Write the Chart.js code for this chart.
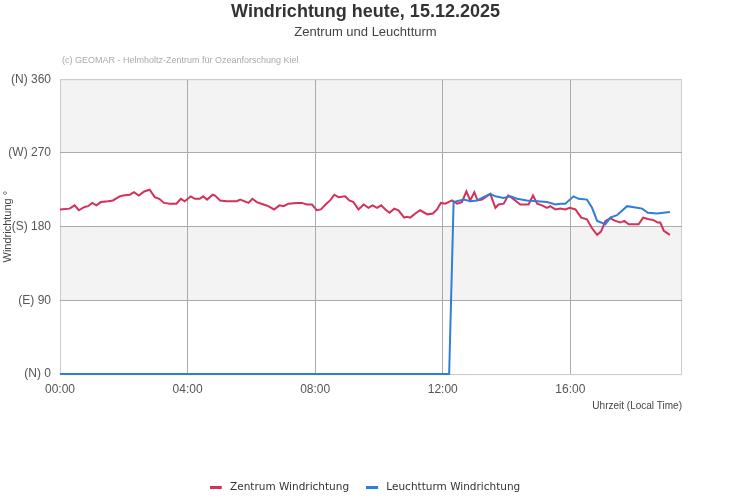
<!DOCTYPE html>
<html>
<head>
<meta charset="utf-8">
<title>Windrichtung heute</title>
<script src="https://cdn.jsdelivr.net/npm/chart.js@4.4.1/dist/chart.umd.min.js"></script>
<style>
  html, body { margin: 0; padding: 0; background: #fff; }
  #wrap { width: 731px; height: 500px; }
</style>
</head>
<body>
<div id="wrap"><canvas id="chart-area" width="731" height="500"></canvas></div>
<script>
// Zentrum: time in decimal hours, direction in degrees
var zentrumHours = [
  0.00, 0.30, 0.46, 0.59, 0.77, 0.88, 1.01, 1.14, 1.28, 1.51, 1.66, 1.87, 1.98, 2.19, 2.32, 2.47,
  2.64, 2.81, 2.97, 3.11, 3.26, 3.44, 3.65, 3.79, 3.91, 4.10, 4.23, 4.38, 4.49, 4.61, 4.79, 4.86,
  5.02, 5.23, 5.54, 5.65, 5.91, 6.03, 6.17, 6.38, 6.53, 6.71, 6.88, 7.01, 7.16, 7.43, 7.58, 7.74,
  7.90, 8.05, 8.18, 8.35, 8.47, 8.60, 8.73, 8.94, 9.07, 9.20, 9.36, 9.52, 9.67, 9.80, 9.94, 10.07,
  10.20, 10.33, 10.48, 10.61, 10.79, 10.88, 10.98, 11.14, 11.29, 11.52, 11.69, 11.82, 11.94, 12.08,
  12.29, 12.45, 12.60, 12.74, 12.86, 12.99, 13.09, 13.23, 13.49, 13.65, 13.75, 13.91, 14.05, 14.17,
  14.43, 14.69, 14.83, 14.96, 15.11, 15.27, 15.37, 15.53, 15.69, 15.84, 15.98, 16.16, 16.34, 16.52,
  16.68, 16.84, 16.96, 17.10, 17.25, 17.41, 17.57, 17.69, 17.83, 18.14, 18.28, 18.46, 18.61, 18.74,
  18.82, 18.93, 19.12
];
var zentrumDeg = [
  201, 202, 206, 200, 204, 205, 209, 206, 210, 211, 212, 217, 218, 219, 222, 218,
  223, 225, 216, 214, 209, 208, 208, 214, 211, 217, 214, 214, 217, 213, 219, 218,
  212, 211, 211, 213, 209, 214, 210, 207, 205, 201, 206, 205, 208, 209, 209, 207,
  207, 200, 201, 208, 212, 219, 216, 217, 212, 210, 201, 207, 203, 206, 203, 206,
  201, 197, 202, 200, 191, 192, 191, 196, 200, 195, 196, 201, 209, 208,
  212, 208, 210, 223, 212, 222, 212, 213, 220, 203, 207, 208, 218, 215,
  207, 207, 218, 208, 206, 203, 205, 201, 202, 201, 203, 201, 191, 189,
  178, 170, 174, 187, 190, 187, 185, 187, 183, 183, 191, 189, 188, 185,
  185, 175, 170
];

// Leuchtturm: no data before noon, logged as 0
var leuchtturmHours = [
  0.00, 12.20, 12.34, 12.66, 12.86, 13.07, 13.28, 13.49, 13.65, 13.91, 14.12, 14.33, 14.64, 14.96,
  15.27, 15.53, 15.69, 15.84, 16.10, 16.26, 16.52, 16.68, 16.84, 17.10, 17.25, 17.46, 17.78, 18.09,
  18.25, 18.43, 18.72, 19.12
];
var leuchtturmDeg = [
  0, 0, 210, 213, 211, 212, 216, 220, 217, 215, 217, 214, 212, 211,
  210, 207, 208, 208, 217, 214, 213, 203, 187, 183, 191, 194, 205, 203,
  202, 197, 196, 198
];

var yTickValues = [0, 90, 180, 270, 360];
var yTickLabels = ['(N) 0', '(E) 90', '(S) 180', '(W) 270', '(N) 360'];
var xTickLabels = ['00:00', '04:00', '08:00', '12:00', '16:00'];

var redColor = '#d3305a';
var blueColor = '#2f7ed8';

function toPoints(xs, ys) {
  return xs.map(function(x, i) { return {x: x, y: ys[i]}; });
}

// legend symbol: short thick line, a bit of room after it
function legendLine(color) {
  var c = document.createElement('canvas');
  c.width = 16;
  c.height = 3;
  var g = c.getContext('2d');
  g.fillStyle = color;
  g.fillRect(0, 0, 12, 3);
  return c;
}

// shaded bands, plot frame and credit line
var decorPlugin = {
  id: 'decor',
  beforeDraw: function(chart) {
    var ctx = chart.ctx, a = chart.chartArea, y = chart.scales.y;
    ctx.save();
    ctx.fillStyle = '#f3f3f3';
    [[270, 360], [90, 180]].forEach(function(b) {
      var top = y.getPixelForValue(b[1]), bot = y.getPixelForValue(b[0]);
      ctx.fillRect(a.left, top, a.right - a.left, bot - top);
    });
    ctx.strokeStyle = '#cccccc';
    ctx.lineWidth = 1;
    ctx.strokeRect(a.left + 0.5, a.top + 0.5, a.right - a.left - 1, a.bottom - a.top);
    ctx.fillStyle = '#aaaaaa';
    ctx.font = '9px "Liberation Sans", Arial, sans-serif';
    ctx.textBaseline = 'middle';
    ctx.textAlign = 'left';
    ctx.fillText('(c) GEOMAR - Helmholtz-Zentrum f\u00fcr Ozeanforschung Kiel', 62, 61);
    ctx.restore();
  }
};

var config = {
  type: 'line',
  data: {
    datasets: [{
      label: 'Zentrum Windrichtung',
      data: toPoints(zentrumHours, zentrumDeg),
      borderColor: redColor,
      backgroundColor: redColor,
      borderWidth: 2,
      clip: 4,
      order: 1
    }, {
      label: 'Leuchtturm Windrichtung',
      data: toPoints(leuchtturmHours, leuchtturmDeg),
      borderColor: blueColor,
      backgroundColor: blueColor,
      borderWidth: 2,
      clip: 4,
      order: 0
    }]
  },
  options: {
    responsive: false,
    animation: false,
    devicePixelRatio: 1,
    elements: {
      point: { radius: 0 },
      line: { tension: 0 }
    },
    layout: { padding: { left: 0, right: 0, top: 0, bottom: -3 } },
    scales: {
      x: {
        type: 'linear',
        min: 0,
        max: 19.5,
        border: { display: false },
        grid: {
          drawTicks: false,
          color: function(c) { return c.tick && c.tick.value === 0 ? '#cccccc' : '#ababab'; }
        },
        ticks: {
          stepSize: 4,
          includeBounds: false,
          padding: 8,
          color: '#555555',
          font: { family: '"Liberation Sans", Arial, sans-serif', size: 12 },
          maxRotation: 0,
          callback: function(v, i) { return xTickLabels[i]; }
        },
        title: {
          display: true,
          text: 'Uhrzeit (Local Time)',
          align: 'end',
          color: '#444444',
          font: { family: '"Liberation Sans", Arial, sans-serif', size: 10 },
          padding: { top: -4, bottom: 52 }
        }
      },
      y: {
        min: 0,
        max: 360,
        border: { display: false },
        afterFit: function(scale) { scale.width = 60; },
        grid: {
          drawTicks: false,
          color: function(c) {
            return c.tick && (c.tick.value === 0 || c.tick.value === 360) ? '#cccccc' : '#ababab';
          }
        },
        ticks: {
          stepSize: 90,
          padding: 9,
          color: '#555555',
          font: { family: '"Liberation Sans", Arial, sans-serif', size: 12 },
          callback: function(v) { return yTickLabels[yTickValues.indexOf(v)]; }
        },
        title: {
          display: true,
          text: 'Windrichtung \u00b0',
          color: '#444444',
          font: { family: '"Liberation Sans", Arial, sans-serif', size: 11 },
          padding: { top: 1, bottom: 0 }
        }
      },
      // empty right-hand axis, only keeps the margin right of the plot
      yRight: {
        position: 'right',
        display: true,
        border: { display: false },
        grid: { display: false },
        ticks: { display: false },
        afterFit: function(scale) { scale.width = 49; }
      }
    },
    plugins: {
      title: {
        display: true,
        text: 'Windrichtung heute, 15.12.2025',
        color: '#333333',
        font: { family: '"Liberation Sans", Arial, sans-serif', size: 18, weight: 'bold' },
        padding: { top: 1, bottom: 1 }
      },
      subtitle: {
        display: true,
        text: 'Zentrum und Leuchtturm',
        color: '#444444',
        font: { family: '"Liberation Sans", Arial, sans-serif', size: 13 },
        padding: { top: 1, bottom: 39 }
      },
      legend: {
        position: 'bottom',
        labels: {
          usePointStyle: true,
          pointStyleWidth: 14,
          padding: 18,
          color: '#333333',
          font: { family: '"DejaVu Sans", sans-serif', size: 10.5 },
          sort: function(a, b) { return a.datasetIndex - b.datasetIndex; },
          generateLabels: function(chart) {
            var items = Chart.defaults.plugins.legend.labels.generateLabels(chart);
            items.forEach(function(it) {
              it.pointStyle = legendLine(chart.data.datasets[it.datasetIndex].borderColor);
            });
            return items;
          }
        }
      },
      tooltip: { enabled: false }
    }
  },
  plugins: [decorPlugin]
};

window.onload = function() {
  var ctx = document.getElementById('chart-area').getContext('2d');
  window.myLine = new Chart(ctx, config);
};
</script>
</body>
</html>
